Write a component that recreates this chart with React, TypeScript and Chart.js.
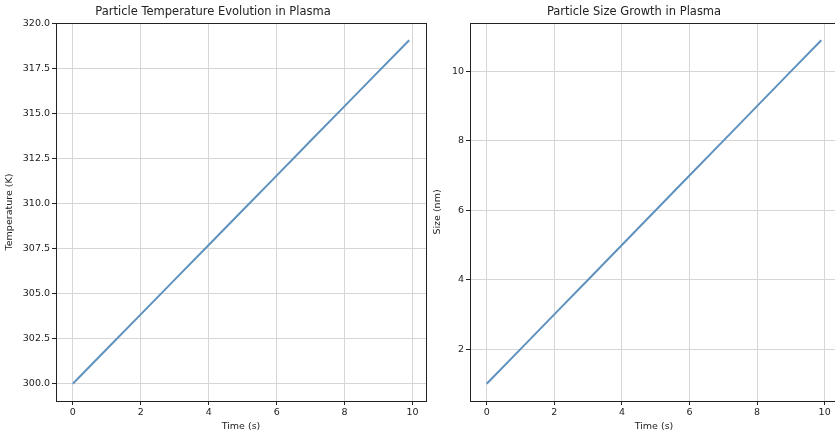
import React, { useEffect, useRef } from "react";
import { Chart, registerables } from "chart.js";

Chart.register(...registerables);

const timeS = [0, 1, 2, 3, 4, 5, 6, 7, 8, 9, 9.9];
const temperatureK = [300.0, 301.93, 303.85, 305.78, 307.7, 309.63, 311.55, 313.48, 315.4, 317.33, 319.06];
const sizeNm = [1.0, 2.0, 3.0, 4.0, 5.0, 6.0, 7.0, 8.0, 9.0, 10.0, 10.9];

const xTickValues = [0, 2, 4, 6, 8, 10];
const tempTickValues = [300, 302.5, 305, 307.5, 310, 312.5, 315, 317.5, 320];
const sizeTickValues = [2, 4, 6, 8, 10];

const FONT = "'DejaVu Sans', sans-serif";
const LINE_COLOR = "rgb(95,145,190)";
const GRID_COLOR = "#d6d6d6";
const SPINE_COLOR = "#222";
const TEXT_COLOR = "#222";

const framePlugin = {
  id: "frame",
  afterDraw(chart: any) {
    const { ctx, chartArea } = chart;
    ctx.save();
    ctx.strokeStyle = SPINE_COLOR;
    ctx.lineWidth = 1;
    ctx.strokeRect(
      Math.round(chartArea.left) + 0.5,
      Math.round(chartArea.top) + 0.5,
      Math.round(chartArea.right - chartArea.left),
      Math.round(chartArea.bottom - chartArea.top)
    );
    ctx.restore();
  },
};

function pad(min: number, max: number) {
  const m = (max - min) * 0.05;
  return [min - m, max + m];
}

function makeConfig(
  title: string,
  yLabel: string,
  ys: number[],
  yTicks: number[],
  yFmt: (v: number) => string,
  yAxisWidth: number,
  padRight: number,
  yTitlePad: number
): any {
  const [xmin, xmax] = pad(Math.min(...timeS), Math.max(...timeS));
  const [ymin, ymax] = pad(Math.min(...ys), Math.max(...ys));
  return {
    type: "line",
    data: {
      datasets: [
        {
          data: timeS.map((t, i) => ({ x: t, y: ys[i] })),
          borderColor: LINE_COLOR,
          borderWidth: 2,
          pointRadius: 0,
          fill: false,
          tension: 0,
        },
      ],
    },
    options: {
      responsive: false,
      animation: false,
      layout: { padding: { left: 0, right: padRight, top: 0, bottom: 0 } },
      plugins: {
        legend: { display: false },
        tooltip: { enabled: false },
        title: {
          display: true,
          text: title,
          color: TEXT_COLOR,
          font: { family: FONT, size: 11.5, weight: "normal", lineHeight: 1.2 },
          padding: { top: 5.5, bottom: 3.7 },
        },
      },
      scales: {
        x: {
          type: "linear",
          min: xmin,
          max: xmax,
          afterBuildTicks: (s: any) => {
            s.ticks = xTickValues.map((v) => ({ value: v }));
          },
          afterFit: (s: any) => {
            s.height = 35;
            s.paddingLeft = 0;
            s.paddingRight = 0;
          },
          grid: {
            color: GRID_COLOR,
            lineWidth: 1,
            tickColor: SPINE_COLOR,
            tickLength: 4,
            drawTicks: true,
          },
          border: { display: false },
          ticks: {
            color: TEXT_COLOR,
            font: { family: FONT, size: 9.5 },
            padding: 2,
            maxRotation: 0,
            autoSkip: false,
            callback: (v: any) => String(v),
          },
          title: {
            display: true,
            text: "Time (s)",
            color: TEXT_COLOR,
            font: { family: FONT, size: 9.5, lineHeight: 1.2 },
            padding: { top: 0, bottom: 3.3 },
          },
        },
        y: {
          type: "linear",
          min: ymin,
          max: ymax,
          afterBuildTicks: (s: any) => {
            s.ticks = yTicks.map((v) => ({ value: v }));
          },
          afterFit: (s: any) => {
            s.width = yAxisWidth;
            s.paddingTop = 0;
            s.paddingBottom = 0;
          },
          grid: {
            color: GRID_COLOR,
            lineWidth: 1,
            tickColor: SPINE_COLOR,
            tickLength: 4,
            drawTicks: true,
          },
          border: { display: false },
          ticks: {
            color: TEXT_COLOR,
            font: { family: FONT, size: 9.5 },
            padding: 2,
            autoSkip: false,
            callback: (v: any) => yFmt(Number(v)),
          },
          title: {
            display: true,
            text: yLabel,
            color: TEXT_COLOR,
            font: { family: FONT, size: 9.5, lineHeight: 1.2 },
            padding: { top: yTitlePad, bottom: 0 },
          },
        },
      },
    },
    plugins: [framePlugin],
  };
}

export default function App() {
  const leftRef = useRef<HTMLCanvasElement>(null);
  const rightRef = useRef<HTMLCanvasElement>(null);

  useEffect(() => {
    const c1 = new Chart(
      leftRef.current!,
      makeConfig(
        "Particle Temperature Evolution in Plasma",
        "Temperature (K)",
        temperatureK,
        tempTickValues,
        (v) => v.toFixed(1),
        56,
        4,
        4.3
      )
    );
    const c2 = new Chart(
      rightRef.current!,
      makeConfig(
        "Particle Size Growth in Plasma",
        "Size (nm)",
        sizeNm,
        sizeTickValues,
        (v) => String(v),
        40,
        12,
        2.3
      )
    );
    c1.update("none");
    c2.update("none");
    return () => {
      c1.destroy();
      c2.destroy();
    };
  }, []);

  return (
    <div
      style={{
        position: "fixed",
        left: 0,
        top: 0,
        width: 835,
        height: 436,
        overflow: "hidden",
        background: "#fff",
      }}
    >
      <canvas
        ref={leftRef}
        width={430}
        height={436}
        style={{ position: "absolute", left: 0, top: 0, width: 430, height: 436 }}
      />
      <canvas
        ref={rightRef}
        width={420}
        height={436}
        style={{ position: "absolute", left: 430, top: 0, width: 420, height: 436 }}
      />
    </div>
  );
}
